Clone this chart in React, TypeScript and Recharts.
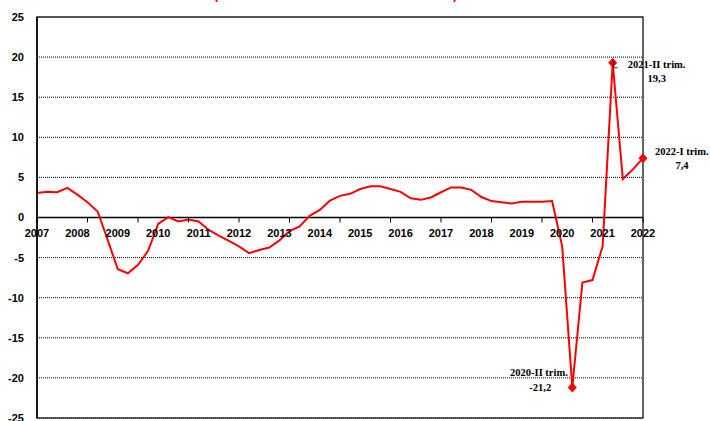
import React from 'react'
import { LineChart, Line, XAxis, YAxis, CartesianGrid, ReferenceLine, ReferenceDot, ReferenceArea } from 'recharts'

const years = ['2007', '2008', '2009', '2010', '2011', '2012', '2013', '2014', '2015', '2016', '2017', '2018', '2019', '2020', '2021', '2022']
const quarterNames = ['I', 'II', 'III', 'IV']

// variazione % sul trimestre corrispondente, 2007-I ... 2022-I
const values = [
  3.05, 3.2, 3.15, 3.7,
  2.85, 1.9, 0.75, -2.8,
  -6.45, -6.95, -5.9, -4.15,
  -0.8, 0.05, -0.5, -0.25,
  -0.5, -1.55, -2.25, -2.9,
  -3.6, -4.45, -4.05, -3.75,
  -2.85, -1.7, -1.1, 0.2,
  0.95, 2.1, 2.7, 2.95,
  3.55, 3.9, 3.9, 3.55,
  3.2, 2.4, 2.2, 2.5,
  3.15, 3.75, 3.75, 3.45,
  2.55, 2.05, 1.9, 1.75,
  1.95, 1.95, 1.95, 2.05,
  -3.6, -21.2, -8.1, -7.8,
  -3.6, 19.3, 4.8, 6.0,
  7.4,
]

const yTicks = [-25, -20, -15, -10, -5, 0, 5, 10, 15, 20, 25]

const highlightQuarters = ['2020-II', '2021-II', '2022-I']
const highlightTitles = ['2020-II trim.', '2021-II trim.', '2022-I trim.']
const highlightValues = ['-21,2', '19,3', '7,4']

const quarters = years.flatMap(y => quarterNames.map(q => `${y}-${q}`)).slice(0, values.length)
const data = quarters.map((q, i) => ({ q, v: values[i] }))
const tickQuarters = quarters.filter((_, i) => i % 5 === 0)

const axisFont = { fontFamily: 'Arial, "Liberation Sans", sans-serif', fontSize: 11, fontWeight: 700, fill: '#000' }
const noteFont = { fontFamily: '"Times New Roman", "Liberation Serif", serif', fontSize: 10.5, fontWeight: 700, fill: '#000' }

// posizione delle etichette rispetto al marcatore
const notePlace: Record<string, { tx: number; ty: number; anchor: 'start' | 'end'; vx: number; vy: number }> = {
  '2020-II': { tx: -4.5, ty: -12, anchor: 'end', vx: -32, vy: 3 },
  '2021-II': { tx: 15, ty: 5, anchor: 'start', vx: 44, vy: 19 },
  '2022-I': { tx: 12, ty: -3, anchor: 'start', vx: 39, vy: 11 },
}

function renderDot(props: any) {
  const { cx, cy, payload, index } = props
  const k = highlightQuarters.indexOf(payload.q)
  if (k < 0 || cx == null || cy == null) return <g key={`d${index}`} />
  const p = notePlace[payload.q]
  return (
    <g key={`d${index}`}>
      <path d={`M${cx},${cy - 5} L${cx + 4.5},${cy} L${cx},${cy + 5} L${cx - 4.5},${cy} Z`} fill="#ff0000" />
      {payload.q === '2021-II' && (
        <path d={`M${cx + 1},${cy - 2} V${cy + 5} H${cx + 5}`} stroke="#000" strokeWidth={0.8} fill="none" />
      )}
      <text x={cx + p.tx} y={cy + p.ty} textAnchor={p.anchor} style={noteFont}>{highlightTitles[k]}</text>
      <text x={cx + p.vx} y={cy + p.vy} textAnchor="middle" style={noteFont}>{highlightValues[k]}</text>
    </g>
  )
}

const YearLabel = (props: any) => (
  <text x={props.cx} y={props.cy + 19} textAnchor="middle" style={axisFont}>{props.label}</text>
)

const TickMark = (props: any) => (
  <line x1={props.cx} y1={props.cy} x2={props.cx} y2={props.cy + 5} stroke="#000" strokeWidth={1} />
)

export default function App() {
  return (
    <div style={{ position: 'absolute', left: 0, top: 0, width: 710, height: 421, background: '#fff' }}>
      <LineChart width={710} height={421} data={data} margin={{ top: 17, right: 67, bottom: 3, left: 0 }}>
        <CartesianGrid horizontal vertical={false} stroke="#000" strokeDasharray="1 1" />
        <XAxis dataKey="q" type="category" hide />
        <YAxis
          type="number"
          domain={[-25, 25]}
          ticks={yTicks}
          interval={0}
          width={37}
          tickLine={false}
          tickSize={0}
          tickMargin={13}
          axisLine={{ stroke: '#000', strokeWidth: 1.5 }}
          tick={axisFont}
        />
        <ReferenceArea x1={quarters[0]} x2={quarters[quarters.length - 1]} y1={-25} y2={25} fill="none" stroke="#333" strokeWidth={1.5} ifOverflow="visible" />
        <ReferenceLine y={0} stroke="#000" strokeWidth={1.5} />
        {tickQuarters.map(q => (
          <ReferenceDot key={`t${q}`} x={q} y={0} r={0} ifOverflow="visible" shape={TickMark} />
        ))}
        {years.map(y => (
          <ReferenceDot key={`y${y}`} x={`${y}-I`} y={0} r={0} ifOverflow="visible" shape={(p: any) => <YearLabel {...p} label={y} />} />
        ))}
        <Line type="linear" dataKey="v" stroke="#ff0000" strokeWidth={2} dot={renderDot} activeDot={false} isAnimationActive={false} />
      </LineChart>
      <svg width={710} height={421} style={{ position: 'absolute', left: 0, top: 0, pointerEvents: 'none' }}>
        <text x={214} y={-1.5} fill="#ff0000" style={{ fontFamily: 'Arial, sans-serif', fontSize: 13, fontWeight: 700 }}>(</text>
        <text x={453} y={-1.5} fill="#ff0000" style={{ fontFamily: 'Arial, sans-serif', fontSize: 13, fontWeight: 700 }}>)</text>
      </svg>
    </div>
  )
}
